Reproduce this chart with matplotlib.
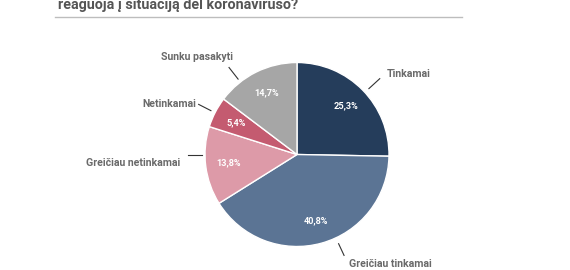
import matplotlib
matplotlib.use("Agg")
import matplotlib.pyplot as plt
import numpy as np

# Duomenys
categories = ["Tinkamai", "Greičiau tinkamai", "Greičiau netinkamai",
              "Netinkamai", "Sunku pasakyti"]
shares = [25.3, 40.8, 13.8, 5.4, 14.7]
colors = ["#253d5b", "#5b7494", "#dd9aa8", "#c45b70", "#a6a6a6"]
title = "reaguoja į situaciją dėl koronaviruso?"

# leader line (angle deg, r0, r1) and text (x, y, ha) in pie units
label_layout = [
    (42.5, 1.06, 1.22, (0.98, 0.88, "left")),
    (-65.0, 1.07, 1.21, (0.57, -1.19, "left")),
    (180.0, 1.03, 1.18, (-1.27, -0.09, "right")),
    (153.0, 1.05, 1.20, (-1.10, 0.55, "right")),
    (128.0, 1.04, 1.20, (-0.70, 1.06, "right")),
]

plt.rcParams["font.family"] = ["Roboto", "DejaVu Sans"]

fig = plt.figure(figsize=(5.7, 2.7), dpi=100)
fig.patch.set_facecolor("white")

# title is cut off at the top edge, as in the source
fig.text(58 / 570, 1 - 8.5 / 270, title, ha="left", va="baseline",
         fontsize=10.4, fontweight="bold", color="#555555")
fig.add_artist(plt.Line2D([55 / 570, 462 / 570], [1 - 17 / 270] * 2,
                          color="#bdbdbd", lw=1.0))

cx, cy, r = 297, 154.5, 92
ax = fig.add_axes([(cx - r) / 570, (270 - cy - r) / 270, 2 * r / 570, 2 * r / 270])
wedges, texts, autotexts = ax.pie(
    shares, colors=colors, startangle=90, counterclock=False,
    autopct=lambda p: f"{p:.1f}%".replace(".", ","), pctdistance=0.75,
    wedgeprops=dict(edgecolor="white", linewidth=1.0),
    textprops=dict(color="white", fontsize=6.6, fontweight="bold"))
ax.set_xlim(-1, 1)
ax.set_ylim(-1, 1)
ax.set_aspect("auto")
ax.axis("off")

for name, (ang, r0, r1, (tx, ty, ha)) in zip(categories, label_layout):
    a = np.deg2rad(ang)
    ax.plot([r0 * np.cos(a), r1 * np.cos(a)], [r0 * np.sin(a), r1 * np.sin(a)],
            color="#333333", lw=0.8, clip_on=False)
    ax.text(tx, ty, name, ha=ha, va="center", fontsize=7.6, fontweight="bold",
            color="#6a6a6a", clip_on=False)

fig.savefig("out.png", dpi=100, facecolor="white")
